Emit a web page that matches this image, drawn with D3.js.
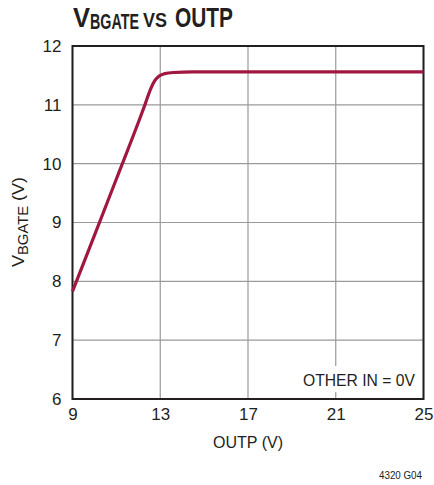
<!DOCTYPE html>
<html>
<head>
<meta charset="utf-8">
<script src="https://cdn.jsdelivr.net/npm/d3@7"></script>
<style>
body { margin: 0; background: #fff; }
text { font-family: "Liberation Sans Narrow", "Liberation Sans", sans-serif; fill: #231f20; }
.title { font-weight: bold; }
.tick text { font-size: 17px; font-family: "Liberation Sans Narrow", "Liberation Sans", sans-serif; fill: #231f20; }
.lbl { font-size: 17px; }
</style>
</head>
<body>
<div id="chart"></div>
<script>
var outp = [9, 10, 11, 12, 12.3, 12.55, 12.75, 12.95, 13.2, 13.6, 14.5, 17, 21, 25];
var vbgate = [7.83, 8.78, 9.74, 10.7, 11.0, 11.26, 11.41, 11.49, 11.53, 11.55, 11.56, 11.56, 11.56, 11.56];
var xTicks = [9, 13, 17, 21, 25];
var yTicks = [6, 7, 8, 9, 10, 11, 12];

var svg = d3.select("#chart")
    .append("svg")
    .attr("width", 434)
    .attr("height", 485);

var pLeft = 72.5, pRight = 423.5, pTop = 46, pBottom = 399;

var x = d3.scaleLinear().domain([9, 25]).range([pLeft, pRight]);
var y = d3.scaleLinear().domain([6, 12]).range([pBottom, pTop]);

// grid
svg.append("g")
    .selectAll("line")
    .data(xTicks)
    .enter()
    .append("line")
    .attr("x1", d => x(d)).attr("x2", d => x(d))
    .attr("y1", pTop).attr("y2", pBottom)
    .attr("stroke", "#9a9a9a")
    .attr("stroke-width", 1.2);

svg.append("g")
    .selectAll("line")
    .data(yTicks)
    .enter()
    .append("line")
    .attr("x1", pLeft).attr("x2", pRight)
    .attr("y1", d => y(d)).attr("y2", d => y(d))
    .attr("stroke", "#9a9a9a")
    .attr("stroke-width", 1.2);

// note with white background
var note = svg.append("g");
note.append("rect")
    .attr("x", 298).attr("y", 366)
    .attr("width", 122).attr("height", 26)
    .attr("fill", "#fff");
note.append("text")
    .attr("class", "lbl")
    .attr("x", 415).attr("y", 386)
    .attr("text-anchor", "end")
    .attr("textLength", 112)
    .attr("lengthAdjust", "spacingAndGlyphs")
    .text("OTHER IN = 0V");

// frame
svg.append("rect")
    .attr("x", pLeft).attr("y", pTop)
    .attr("width", pRight - pLeft).attr("height", pBottom - pTop)
    .attr("fill", "none")
    .attr("stroke", "#231f20")
    .attr("stroke-width", 2);

// axes
var xAxis = svg.append("g")
    .attr("transform", "translate(0," + pBottom + ")")
    .call(d3.axisBottom(x).tickValues(xTicks).tickSize(0).tickPadding(9));
xAxis.select(".domain").remove();
xAxis.selectAll(".tick text").attr("dy", "0.71em");

var yAxis = svg.append("g")
    .attr("transform", "translate(" + pLeft + ",0)")
    .call(d3.axisLeft(y).tickValues(yTicks).tickFormat(d3.format("d")).tickSize(0).tickPadding(11));
yAxis.select(".domain").remove();

// curve
var line = d3.line()
    .x((d, i) => x(outp[i]))
    .y(d => y(d))
    .curve(d3.curveMonotoneX);

svg.append("path")
    .datum(vbgate)
    .attr("d", line)
    .attr("fill", "none")
    .attr("stroke", "#a0173f")
    .attr("stroke-width", 3.2)
    .attr("stroke-linejoin", "round");

// title, pieces placed one after another and squeezed to a condensed look
var tparts = [
    { t: "V", x: 73, w: 17, by: 27, fs: 27.5 },
    { t: "BGATE", x: 90, w: 49, by: 29, fs: 22 },
    { t: "VS", x: 143, w: 24, by: 27, fs: 19.5 },
    { t: "OUTP", x: 175, w: 58, by: 27, fs: 27.5 }
];
svg.append("g")
    .selectAll("text")
    .data(tparts)
    .enter()
    .append("text")
    .attr("class", "title")
    .style("font-size", d => d.fs + "px")
    .text(d => d.t)
    .attr("transform", function(d) {
        var len = this.getComputedTextLength();
        return "translate(" + d.x + "," + d.by + ") scale(" + (d.w / len) + ",1)";
    });

// axis titles
svg.append("text")
    .attr("class", "lbl")
    .attr("x", 248).attr("y", 448)
    .attr("text-anchor", "middle")
    .attr("textLength", 70)
    .attr("lengthAdjust", "spacingAndGlyphs")
    .text("OUTP (V)");

var yl = svg.append("text")
    .attr("class", "lbl")
    .attr("text-anchor", "middle")
    .attr("transform", "translate(24,222) rotate(-90)")
    .attr("textLength", 90)
    .attr("lengthAdjust", "spacingAndGlyphs");
yl.append("tspan").text("V");
yl.append("tspan").attr("dy", 4).attr("font-size", "14px").text("BGATE");
yl.append("tspan").attr("dy", -4).text(" (V)");

svg.append("text")
    .attr("x", 422).attr("y", 479)
    .attr("text-anchor", "end")
    .attr("font-size", "11px")
    .attr("textLength", 43)
    .attr("lengthAdjust", "spacingAndGlyphs")
    .text("4320 G04");
</script>
</body>
</html>
